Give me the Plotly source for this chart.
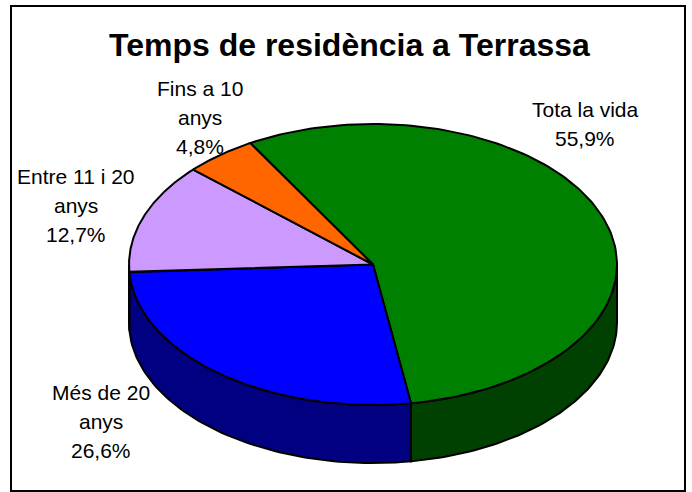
import numpy as np
import plotly.graph_objects as go

# Data, in drawing order clockwise starting at the top-left edge of the green slice
categories = ["Tota la vida", "Més de 20 anys", "Entre 11 i 20 anys", "Fins a 10 anys"]
values = [55.9, 26.6, 12.7, 4.8]
top_colors = ["#008000", "#0000FF", "#CC99FF", "#FF6600"]
side_colors = ["#004000", "#000080", "#664C80", "#803300"]
label_lines = [
    ["Tota la vida", "55,9%"],
    ["Més de 20", "anys", "26,6%"],
    ["Entre 11 i 20", "anys", "12,7%"],
    ["Fins a 10", "anys", "4,8%"],
]
label_centers = [(585, 124), (101, 421), (76, 205), (200, 117)]
title_text = "Temps de residència a Terrassa"

# Pie projection, in axis units (axes span the page's pixels)
CX, CY, RX, RY, DEPTH = 373, 264.5, 244, 140.5, 58
START_DEG = -30.2
LINE_STEP = 29
FONT = "Liberation Sans, Arial, sans-serif"


def project(deg, drop=0.0):
    a = np.radians(deg)
    return CX + RX * np.sin(a), CY - RY * np.cos(a) + drop


fig = go.Figure()
edges = START_DEG + np.concatenate([[0], np.cumsum(values)]) / sum(values) * 360

# Side walls: only the front half (90°..270° clockwise from the top) is visible
for i in range(len(values)):
    lo, hi = max(edges[i], 90), min(edges[i + 1], 270)
    if hi <= lo:
        continue
    t = np.linspace(lo, hi, 80)
    xt, yt = project(t)
    xb, yb = project(t[::-1], DEPTH)
    fig.add_trace(go.Scatter(
        x=np.r_[xt, xb, xt[0]], y=np.r_[yt, yb, yt[0]], mode="lines", fill="toself",
        fillcolor=side_colors[i], line=dict(color="black", width=2),
        hoverinfo="skip", showlegend=False))

# Top faces
for i, name in enumerate(categories):
    t = np.linspace(edges[i], edges[i + 1], 160)
    x, y = project(t)
    fig.add_trace(go.Scatter(
        x=np.r_[CX, x, CX], y=np.r_[CY, y, CY], mode="lines", fill="toself",
        fillcolor=top_colors[i], line=dict(color="black", width=2),
        name=name, hoverinfo="name", showlegend=False))

annotations = [dict(x=349, y=45, text=f"<b>{title_text}</b>", showarrow=False,
                    xanchor="center", yanchor="middle",
                    font=dict(family=FONT, size=32, color="black"))]
for lines, (lx, ly) in zip(label_lines, label_centers):
    for j, line in enumerate(lines):
        annotations.append(dict(
            x=lx, y=ly + (j - (len(lines) - 1) / 2) * LINE_STEP, text=line, showarrow=False,
            xanchor="center", yanchor="middle",
            font=dict(family=FONT, size=21, color="black")))

fig.update_layout(
    width=692, height=492, margin=dict(l=0, r=0, t=0, b=0),
    paper_bgcolor="white", plot_bgcolor="white", showlegend=False,
    xaxis=dict(range=[0, 692], visible=False, fixedrange=True),
    yaxis=dict(range=[492, 0], visible=False, fixedrange=True),
    annotations=annotations,
    shapes=[dict(type="rect", x0=11, y0=6, x1=685, y1=491,
                 line=dict(color="black", width=2), layer="below")],
)
fig.write_html("out.html", config={"displayModeBar": False},
               post_script="document.body.style.margin='0';document.body.style.overflow='hidden';")
